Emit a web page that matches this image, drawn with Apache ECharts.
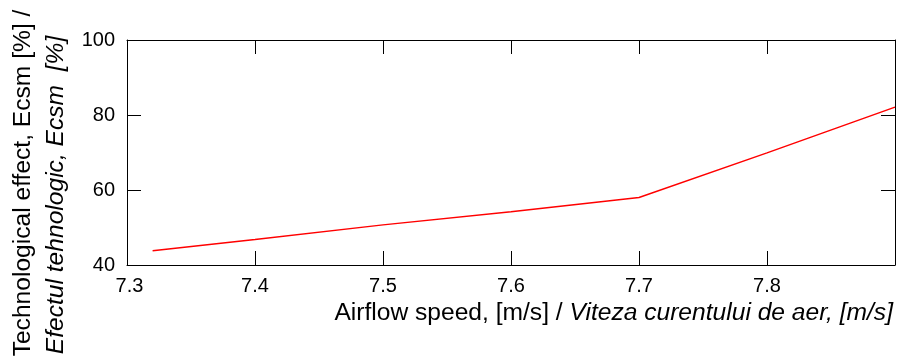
<!DOCTYPE html>
<html>
<head>
<meta charset="utf-8">
<script src="https://cdn.jsdelivr.net/npm/echarts@6/dist/echarts.min.js"></script>
<style>
html,body{margin:0;padding:0;background:#fff;}
#c{width:897px;height:363px;}
</style>
</head>
<body>
<div id="c"></div>
<script>
var xValues = [7.32, 7.4, 7.5, 7.6, 7.7, 7.8, 7.9];
var yValues = [43.8, 46.8, 50.7, 54.2, 58.0, 69.9, 82.1];
var xTitleNormal = 'Airflow speed, [m/s] / ';
var xTitleItalic = 'Viteza curentului de aer, [m/s]';
var yTitle1 = 'Technological effect, Ecsm [%] /';
var yTitle2 = 'Efectul tehnologic, Ecsm  [%]';

var FONT = "'Liberation Sans', Arial, sans-serif";
var FS = 20;
var TFS = 24.6;

var chart = echarts.init(document.getElementById('c'), null, {renderer: 'canvas'});
var data = xValues.map(function (x, i) { return [x, yValues[i]]; });

var axisLineStyle = {color: '#000', width: 1};
chart.setOption({
  animation: false,
  backgroundColor: '#fff',
  grid: {left: 127, top: 40, right: 2, bottom: 98, containLabel: false},
  xAxis: [{
    type: 'value', min: 7.3, max: 7.9, interval: 0.1, position: 'bottom',
    axisLine: {show: true, lineStyle: axisLineStyle},
    axisTick: {show: true, inside: true, length: 14, lineStyle: axisLineStyle},
    splitLine: {show: false},
    axisLabel: {
      show: true, margin: 11, color: '#000', fontFamily: FONT, fontSize: FS,
      showMaxLabel: false,
      formatter: function (v) {
        var s = v.toFixed(1);
        if (s === '7.9') return '';
        if (s === '7.3') return '{m|' + s + '}';
        return s;
      },
      rich: {m: {padding: [0, 0, 0, 5], fontFamily: FONT, fontSize: FS, color: '#000'}}
    }
  }, {
    type: 'value', min: 7.3, max: 7.9, interval: 0.1, position: 'top',
    axisLine: {show: true, lineStyle: axisLineStyle},
    axisTick: {show: true, inside: true, length: 14, lineStyle: axisLineStyle},
    splitLine: {show: false},
    axisLabel: {show: false}
  }],
  yAxis: [{
    type: 'value', min: 40, max: 100, interval: 20, position: 'left',
    axisLine: {show: true, lineStyle: axisLineStyle},
    axisTick: {show: true, inside: true, length: 14, lineStyle: axisLineStyle},
    splitLine: {show: false},
    axisLabel: {show: true, margin: 12, color: '#000', fontFamily: FONT, fontSize: FS,
      padding: [6, 0, 0, 0],
      formatter: function (v) { return String(Math.round(v)); }}
  }, {
    type: 'value', min: 40, max: 100, interval: 20, position: 'right',
    axisLine: {show: true, lineStyle: axisLineStyle},
    axisTick: {show: true, inside: true, length: 14, lineStyle: axisLineStyle},
    splitLine: {show: false},
    axisLabel: {show: false}
  }],
  series: [{
    type: 'line', data: data, xAxisIndex: 0, yAxisIndex: 0,
    showSymbol: false, symbol: 'none', smooth: false,
    lineStyle: {color: '#ff0000', width: 1.5}
  }],
  graphic: [{
    type: 'text', x: 893, y: 313,
    style: {
      text: '{n|' + xTitleNormal + '}{i|' + xTitleItalic + '}',
      align: 'right', verticalAlign: 'middle',
      rich: {
        n: {fontFamily: FONT, fontSize: TFS, color: '#000'},
        i: {fontFamily: FONT, fontSize: TFS, color: '#000', fontStyle: 'italic'}
      }
    }
  }, {
    type: 'text', x: 23, y: 183, rotation: Math.PI / 2,
    style: {text: yTitle1, align: 'center', verticalAlign: 'middle',
      fontFamily: FONT, fontSize: TFS, fill: '#000'}
  }, {
    type: 'text', x: 56, y: 195, rotation: Math.PI / 2,
    style: {text: yTitle2, align: 'center', verticalAlign: 'middle',
      fontFamily: FONT, fontSize: TFS, fill: '#000', fontStyle: 'italic'}
  }]
});
</script>
</body>
</html>
